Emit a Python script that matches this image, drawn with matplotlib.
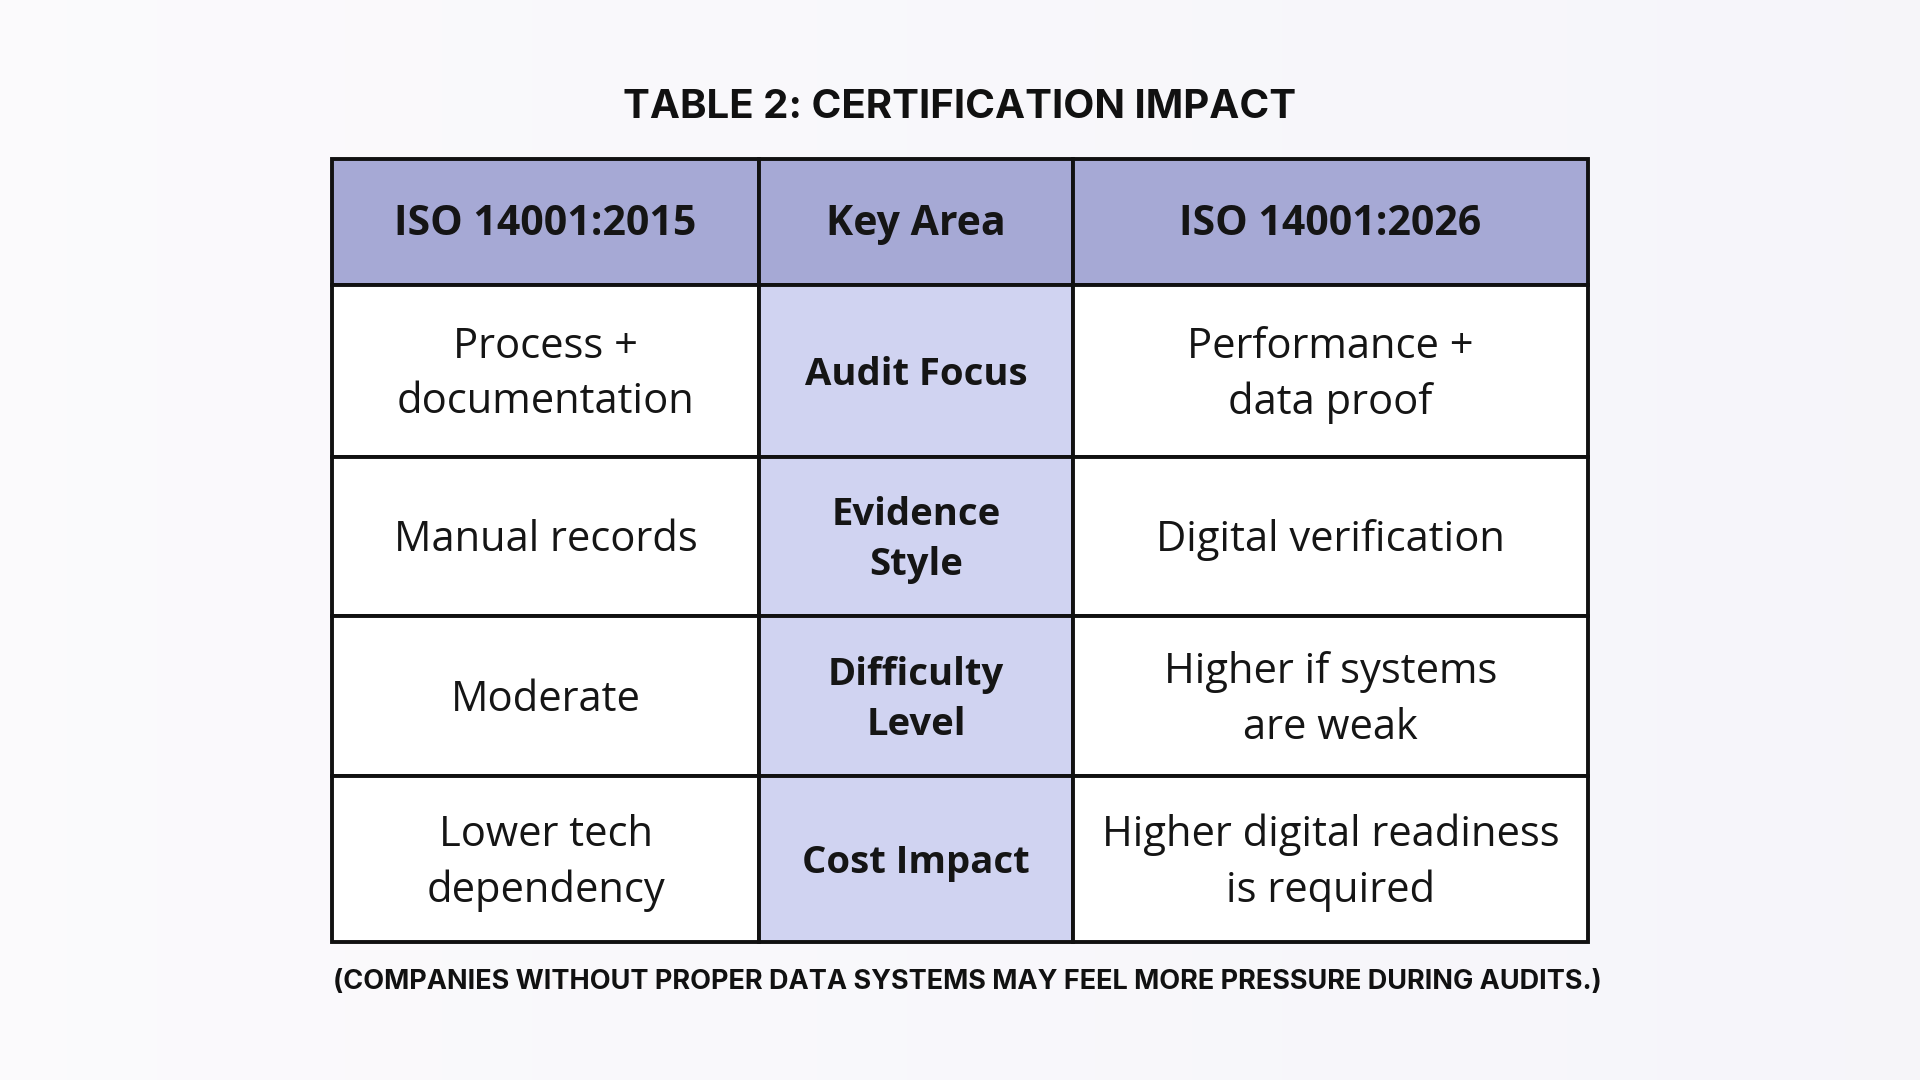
import matplotlib
matplotlib.use("Agg")
import matplotlib.pyplot as plt
from matplotlib.patches import Rectangle
import numpy as np

title = "TABLE 2: CERTIFICATION IMPACT"
headers = ["ISO 14001:2015", "Key Area", "ISO 14001:2026"]
col_2015 = ["Process +\ndocumentation", "Manual records", "Moderate", "Lower tech\ndependency"]
key_area = ["Audit Focus", "Evidence\nStyle", "Difficulty\nLevel", "Cost Impact"]
col_2026 = ["Performance +\ndata proof", "Digital verification", "Higher if systems\nare weak", "Higher digital readiness\nis required"]
footer = "(COMPANIES WITHOUT PROPER DATA SYSTEMS MAY FEEL MORE PRESSURE DURING AUDITS.)"

W, H = 1568, 882
xs = [271, 620, 876, 1297]
ys = [130, 233, 373, 503, 634, 769]

fig = plt.figure(figsize=(19.2, 10.8), dpi=100)
ax = fig.add_axes([0, 0, 1, 1])
ax.set_xlim(0, W); ax.set_ylim(H, 0); ax.axis("off")
grad = np.linspace(0, 1, 256)[None, :]
ax.imshow(np.dstack([0.985 - 0.02*grad, 0.982 - 0.02*grad, 0.99 - 0.01*grad]),
          extent=[0, W, H, 0], aspect="auto", zorder=0)

hdr_c, key_c = "#a6a9d5", "#d0d3f1"
lw = 2.8
for r in range(5):
    for c in range(3):
        fc = hdr_c if r == 0 else (key_c if c == 1 else "white")
        ax.add_patch(Rectangle((xs[c], ys[r]), xs[c+1]-xs[c], ys[r+1]-ys[r],
                               facecolor=fc, edgecolor="#111111", lw=lw, zorder=1))
for c, t in enumerate(headers):
    ax.text((xs[c]+xs[c+1])/2, (ys[0]+ys[1])/2 + 2, t, ha="center", va="center",
            fontsize=29.5, fontweight="bold", family="Open Sans", color="#151515", zorder=2)
for r in range(4):
    yc = (ys[r+1]+ys[r+2])/2 + 3
    for c, col in enumerate([col_2015, key_area, col_2026]):
        ax.text((xs[c]+xs[c+1])/2, yc, col[r], ha="center", va="center",
                fontsize=30 if c != 1 else 27.5, fontweight="bold" if c == 1 else "normal",
                family="Open Sans", color="#151515", linespacing=1.42, zorder=2)
ax.text(W/2, 88, title, ha="center", va="center", fontsize=29,
        fontweight="bold", family="Inter", color="#111111")
ax.text(W/2 + 6, 802, footer, ha="center", va="center", fontsize=19.5,
        fontweight="bold", family="Inter", color="#111111")
fig.savefig("out.png", dpi=100)
